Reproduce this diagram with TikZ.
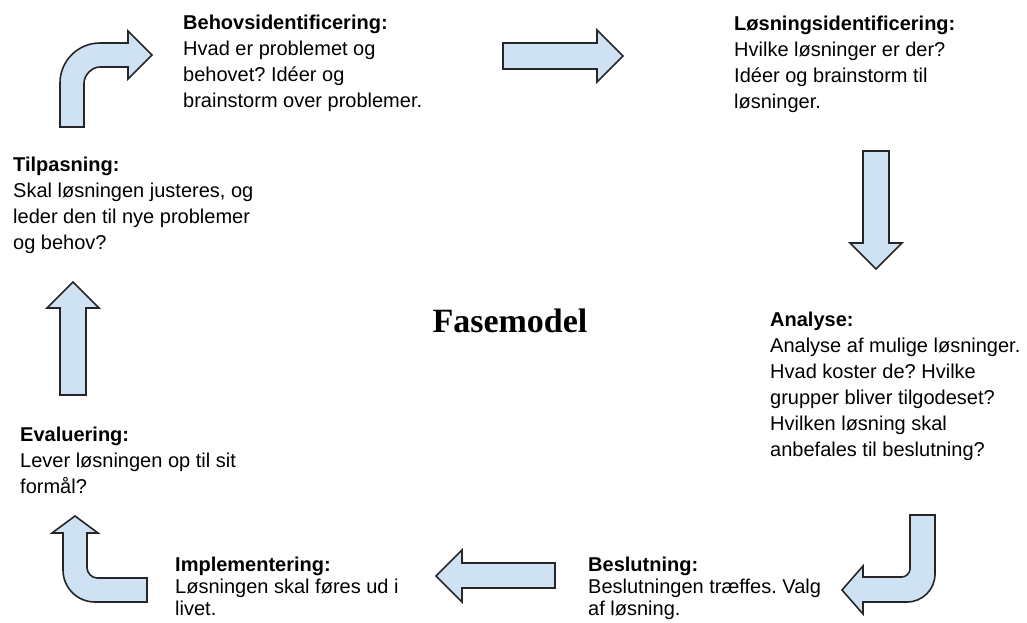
\documentclass[tikz,border=0pt]{standalone}
\usepackage{fontspec}
\setmainfont{Liberation Sans}
\newfontfamily\titlefont{Liberation Serif}
\definecolor{arrowblue}{HTML}{CFE2F3}
\frenchspacing
\begin{document}
\begin{tikzpicture}[x=1pt,y=-1pt,line join=miter,
  blockarrow/.style={draw=black!85,fill=arrowblue,line width=1.6pt},
  phase/.style={anchor=north west,inner sep=0pt,align=left,font=\fontsize{20pt}{26pt}\selectfont},
  tightphase/.style={phase,font=\fontsize{20pt}{22pt}\selectfont}]
\useasboundingbox (0,0) rectangle (1027,623);
\draw[blockarrow] (60,127)--(60,83) .. controls (60,60.9) and (77.9,43) .. (100,43)--(128,43)--(128,31)--(152,55)--(128,79)--(128,67)--(100,67) .. controls (91.2,67) and (84,75.8) .. (84,83)--(84,127)--cycle;
\draw[blockarrow] (503,43)--(597,43)--(597,30)--(623,56)--(597,82)--(597,69)--(503,69)--cycle;
\draw[blockarrow] (863,151)--(889,151)--(889,243)--(902,243)--(876,269)--(850,243)--(863,243)--cycle;
\draw[blockarrow] (910,515)--(910,569) .. controls (910,573.4) and (905.6,577) .. (902,577)--(863,577)--(863,566)--(842,590)--(863,614)--(863,602)--(907,602) .. controls (922.5,602) and (935,589.5) .. (935,574)--(935,515)--cycle;
\draw[blockarrow] (555,563)--(555,588)--(462,588)--(462,602)--(436,576)--(462,550)--(462,563)--cycle;
\draw[blockarrow] (147,578)--(97,578) .. controls (91.5,578) and (87,572.5) .. (87,568)--(87,533)--(98,533)--(75,516)--(52,533)--(63,533)--(63,570) .. controls (63,587.7) and (77.3,602) .. (95,602)--(147,602)--cycle;
\draw[blockarrow] (60,395)--(60,308)--(47,308)--(73,282)--(99,308)--(86,308)--(86,395)--cycle;
\node[phase] (behov) at (183,14.5) {\textbf{Behovsidentificering:}\\Hvad er problemet og\\behovet? Idéer og\\brainstorm over problemer.};
\node[phase] (loesning) at (734,15.5) {\textbf{Løsningsidentificering:}\\Hvilke løsninger er der?\\Idéer og brainstorm til\\løsninger.};
\node[phase] (analyse) at (770,311.5) {\textbf{Analyse:}\\Analyse af mulige løsninger.\\Hvad koster de? Hvilke\\grupper bliver tilgodeset?\\Hvilken løsning skal\\anbefales til beslutning?};
\node[tightphase] (beslutning) at (588,556.5) {\textbf{Beslutning:}\\Beslutningen træffes. Valg\\af løsning.};
\node[tightphase] (implement) at (175,556.5) {\textbf{Implementering:}\\Løsningen skal føres ud i\\livet.};
\node[phase] (evaluering) at (20,426.5) {\textbf{Evaluering:}\\Lever løsningen op til sit\\formål?};
\node[phase] (tilpasning) at (13,156.5) {\textbf{Tilpasning:}\\Skal løsningen justeres, og\\leder den til nye problemer\\og behov?};
\node[anchor=base,inner sep=0pt,font=\titlefont\bfseries\fontsize{34pt}{40pt}\selectfont] (titel) at (510,332) {Fasemodel};
\end{tikzpicture}
\end{document}
